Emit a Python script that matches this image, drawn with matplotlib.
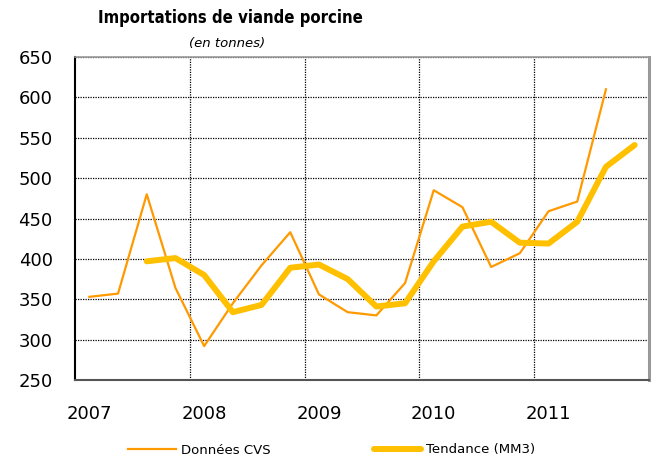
import matplotlib
matplotlib.use("Agg")
import matplotlib.pyplot as plt
import numpy as np

years = ["2007", "2008", "2009", "2010", "2011"]
data_cvs = [353, 357, 480, 364, 292, 345, 392, 433, 356, 334, 330, 370,
            485, 464, 390, 407, 459, 471, 610]
trend_mm3 = [397, 401, 380, 334, 343, 389, 393, 375, 341, 345,
             397, 440, 446, 420, 419, 446, 514, 541]
trend_start = 2

fig = plt.figure(figsize=(6.55, 4.59), dpi=100)
ax = fig.add_axes([75/655, 1-380/459, (649-75)/655, (380-57)/459])

x_data = np.arange(len(data_cvs))
x_trend = np.arange(trend_start, trend_start + len(trend_mm3))

ax.plot(x_data, data_cvs, color="#FF9900", lw=1.6, label="Données CVS", zorder=3)
ax.plot(x_trend, trend_mm3, color="#FFC000", lw=4.3, label="Tendance (MM3)",
        zorder=4, solid_capstyle="round")

ax.set_xlim(-0.5, 19.5)
ax.set_ylim(250, 650)
ax.set_yticks(np.arange(250, 651, 50))
ax.set_xticks(np.arange(0, 20, 4))
ax.set_xticklabels(years)
ax.tick_params(axis="both", length=0, labelsize=13, colors="black")
ax.tick_params(axis="x", pad=18)
ax.tick_params(axis="y", pad=16)

for y in np.arange(300, 651, 50):
    ax.axhline(y, color="black", lw=0.9, ls=(0, (1, 1)), zorder=1)
for xv in [3.5, 7.5, 11.5, 15.5]:
    ax.axvline(xv, color="black", lw=0.9, ls=(0, (1, 1)), zorder=1)

for s in ["left", "bottom"]:
    ax.spines[s].set_color("black")
    ax.spines[s].set_linewidth(1.5)
ax.spines["bottom"].set_color("#555555")
ax.spines["top"].set_color("#999999")
ax.spines["top"].set_linewidth(1.2)
ax.spines["right"].set_color("#999999")
ax.spines["right"].set_linewidth(2.2)

fig.text(230/655, 1-18/459, "Importations de viande porcine", ha="center",
         va="center", fontsize=12, fontweight="bold",
         family="DejaVu Sans", fontstretch="condensed")
fig.text(227/655, 1-43/459, "(en tonnes)", ha="center", va="center",
         fontsize=9.5, fontstyle="italic")

fig.legend(loc="center", bbox_to_anchor=(332/655, 1-450/459), ncol=2,
           frameon=False, fontsize=9.5, handlelength=3.6, columnspacing=7.8,
           handletextpad=0.4)

fig.savefig("out.png", dpi=100)
